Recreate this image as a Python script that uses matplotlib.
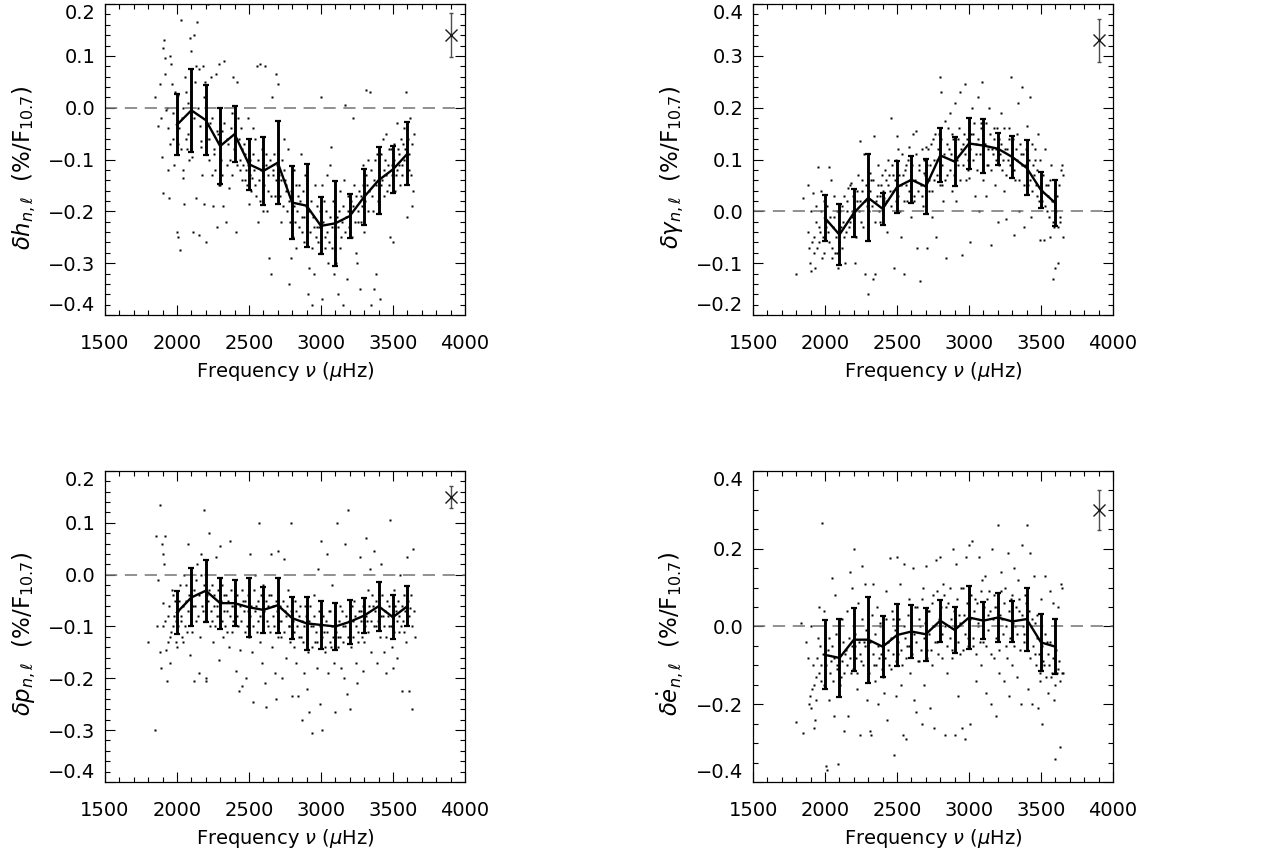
import numpy as np
import matplotlib
matplotlib.use('Agg')
import matplotlib.pyplot as plt
from matplotlib.ticker import MultipleLocator

plt.rcParams['font.family'] = ['DejaVu Sans']
plt.rcParams['mathtext.fontset'] = 'dejavusans'

# bin centres (muHz)
nu_bins = [2000, 2100, 2200, 2300, 2400, 2500, 2600, 2700, 2800,
           2900, 3000, 3100, 3200, 3300, 3400, 3500, 3600]

# binned means and error bar half-lengths
h_mean = [-0.033, -0.005, -0.024, -0.074, -0.051, -0.109, -0.122, -0.106, -0.183,
          -0.189, -0.228, -0.223, -0.209, -0.172, -0.140, -0.119, -0.089]
h_err = [0.059, 0.080, 0.068, 0.074, 0.054, 0.049, 0.065, 0.080, 0.071,
         0.080, 0.055, 0.082, 0.043, 0.054, 0.065, 0.045, 0.061]
g_mean = [-0.013, -0.045, -0.003, 0.026, 0.005, 0.047, 0.061, 0.048, 0.108,
          0.096, 0.131, 0.127, 0.121, 0.105, 0.084, 0.041, 0.016]
g_err = [0.044, 0.059, 0.046, 0.084, 0.031, 0.051, 0.045, 0.053, 0.052,
         0.048, 0.050, 0.052, 0.031, 0.040, 0.053, 0.035, 0.044]
p_mean = [-0.073, -0.044, -0.031, -0.055, -0.055, -0.063, -0.068, -0.059, -0.084,
          -0.094, -0.097, -0.100, -0.091, -0.079, -0.061, -0.082, -0.061]
p_err = [0.041, 0.056, 0.060, 0.049, 0.045, 0.057, 0.045, 0.053, 0.041,
         0.051, 0.046, 0.045, 0.043, 0.033, 0.047, 0.042, 0.039]
e_mean = [-0.073, -0.081, -0.034, -0.034, -0.052, -0.022, -0.013, -0.020, 0.015,
          -0.009, 0.023, 0.015, 0.023, 0.013, 0.019, -0.041, -0.052]
e_err = [0.089, 0.101, 0.081, 0.111, 0.079, 0.080, 0.067, 0.068, 0.054,
         0.058, 0.080, 0.047, 0.063, 0.052, 0.081, 0.074, 0.070]

# typical single-mode error (top right symbol): freq, value, error
h_typ = (3900, 0.140, 0.043)
g_typ = (3900, 0.330, 0.042)
p_typ = (3900, 0.150, 0.022)
e_typ = (3900, 0.300, 0.051)

# individual modes (freq, shift): scattered modes
h_pts = [(1850, 0.02), (1870, -0.035), (1880, 0.045), (1890, -0.02), (1895, -0.095), (1900, -0.165),
         (1905, 0.115), (1910, 0.13), (1915, 0.095), (1920, 0.065), (1925, -0.005), (1930, 0.0),
         (1935, -0.04), (1940, -0.12), (1945, -0.175), (1950, 0.1), (1955, -0.07), (1960, 0.085),
         (1965, 0.045), (1970, -0.01), (1975, -0.06), (1980, -0.11), (1985, 0.03),
         (2000, -0.24), (2005, -0.25), (2010, 0.025), (2015, -0.04), (2020, -0.275), (2025, -0.08),
         (2030, 0.17), (2040, -0.135), (2045, -0.12), (2050, -0.185), (2055, 0.06), (2060, 0.03),
         (2065, -0.06), (2070, -0.08), (2080, 0.01), (2090, 0.135), (2095, 0.11), (2100, -0.04),
         (2105, -0.095), (2110, -0.24), (2120, 0.14), (2125, 0.05), (2130, 0.08), (2135, -0.175),
         (2140, 0.165), (2150, -0.245), (2155, 0.075), (2160, -0.035), (2165, -0.065), (2170, -0.075),
         (2180, 0.08), (2190, -0.185), (2195, 0.05), (2200, -0.26), (2205, -0.02), (2210, -0.06),
         (2215, 0.2), (2220, -0.1), (2230, -0.03), (2240, -0.13), (2250, -0.19), (2260, -0.08),
         (2270, 0.065), (2275, -0.045), (2280, -0.23), (2290, 0.085), (2295, -0.15), (2300, -0.15),
         (2310, -0.045), (2320, -0.19), (2330, 0.09), (2340, -0.22), (2350, -0.11), (2355, -0.07),
         (2360, -0.155), (2380, -0.01), (2390, 0.06), (2400, -0.03), (2410, -0.24), (2420, 0.05),
         (2430, -0.06), (2440, -0.1), (2450, -0.08), (2460, -0.11), (2470, -0.14), (2480, -0.12),
         (2490, -0.02), (2500, -0.185), (2510, -0.1), (2520, -0.135), (2530, -0.04), (2540, -0.06),
         (2550, -0.17), (2555, 0.08), (2560, -0.22), (2570, -0.14), (2580, 0.085), (2585, -0.12),
         (2590, -0.08), (2600, -0.2), (2610, 0.08), (2620, -0.09), (2630, -0.16), (2640, -0.29),
         (2650, -0.32), (2660, 0.02), (2670, -0.13), (2680, -0.17), (2690, 0.065), (2700, 0.045),
         (2705, -0.05), (2710, -0.13), (2720, -0.22), (2730, -0.1), (2740, -0.06), (2750, -0.14),
         (2760, -0.15), (2770, -0.08), (2780, -0.34), (2790, -0.29), (2800, -0.2), (2810, -0.12),
         (2820, -0.22), (2830, -0.27), (2840, -0.17), (2850, -0.15), (2860, -0.09), (2870, -0.24),
         (2880, -0.21), (2890, -0.13), (2900, -0.25), (2910, -0.36), (2920, -0.31), (2930, -0.18),
         (2940, -0.38), (2950, -0.32), (2960, -0.15), (2970, -0.23), (2980, -0.26), (2990, -0.2),
         (3000, 0.02), (3005, -0.15), (3010, -0.37), (3020, -0.18), (3030, -0.25), (3040, -0.13),
         (3050, -0.3), (3060, -0.11), (3070, -0.075), (3080, -0.27), (3090, -0.32), (3100, -0.19),
         (3110, -0.21), (3120, -0.36), (3130, -0.16), (3140, -0.25), (3150, -0.38), (3160, -0.14),
         (3170, 0.005), (3180, -0.33), (3190, -0.2), (3200, -0.24), (3210, -0.18), (3220, -0.02),
         (3230, -0.15), (3240, -0.28), (3250, -0.3), (3260, -0.22), (3270, -0.35), (3280, -0.17),
         (3290, -0.11), (3300, -0.24), (3310, 0.035), (3320, -0.15), (3330, -0.1), (3340, 0.03),
         (3350, -0.38), (3360, -0.2), (3370, -0.35), (3380, -0.32), (3390, -0.09), (3400, -0.2),
         (3410, -0.37), (3420, -0.15), (3430, -0.06), (3440, -0.12), (3450, -0.05), (3460, -0.16),
         (3470, -0.08), (3480, -0.25), (3490, -0.11), (3500, -0.26), (3510, -0.07), (3520, -0.13),
         (3530, -0.03), (3540, -0.09), (3550, -0.15), (3560, -0.11), (3570, -0.07), (3580, -0.04),
         (3590, 0.03), (3600, -0.21), (3610, -0.12), (3620, -0.02), (3630, -0.19), (3640, -0.16),
         (3645, -0.05)]
# denser cloud close to the binned curve
h_core = [(2005, -0.07), (2035, -0.02), (2045, 0.0), (2075, -0.05), (2085, -0.1), (2115, -0.02),
          (2145, 0.0), (2175, -0.13), (2185, 0.02), (2225, -0.06), (2235, 0.06), (2245, -0.02),
          (2255, -0.09), (2265, -0.12), (2285, -0.05), (2305, -0.1), (2315, -0.13), (2325, -0.03),
          (2345, -0.06), (2365, -0.1), (2375, -0.04), (2385, -0.13), (2395, -0.08), (2405, -0.06),
          (2415, -0.11), (2425, -0.02), (2435, -0.12), (2445, -0.04), (2455, -0.14), (2465, -0.07),
          (2475, -0.09), (2485, -0.15), (2495, -0.11), (2505, -0.13), (2515, -0.16), (2525, -0.09),
          (2535, -0.12), (2545, -0.15), (2565, -0.1), (2575, -0.18), (2595, -0.13), (2605, -0.15),
          (2615, -0.11), (2625, -0.2), (2635, -0.13), (2645, -0.1), (2655, -0.17), (2665, -0.12),
          (2675, -0.09), (2685, -0.14), (2695, -0.11), (2715, -0.17), (2725, -0.14), (2735, -0.19),
          (2745, -0.12), (2755, -0.16), (2765, -0.2), (2775, -0.18), (2785, -0.22), (2795, -0.16),
          (2805, -0.25), (2815, -0.19), (2825, -0.15), (2835, -0.2), (2845, -0.23), (2855, -0.18),
          (2865, -0.21), (2875, -0.16), (2885, -0.26), (2895, -0.19), (2905, -0.22), (2915, -0.2),
          (2925, -0.24), (2935, -0.27), (2945, -0.21), (2955, -0.23), (2965, -0.25), (2975, -0.19),
          (2985, -0.23), (2995, -0.28), (3015, -0.22), (3025, -0.27), (3035, -0.2), (3045, -0.24),
          (3055, -0.26), (3065, -0.21), (3075, -0.23), (3085, -0.18), (3095, -0.25), (3105, -0.3),
          (3115, -0.23), (3125, -0.2), (3135, -0.27), (3145, -0.22), (3155, -0.19), (3165, -0.24),
          (3175, -0.21), (3185, -0.17), (3195, -0.23), (3205, -0.2), (3215, -0.25), (3225, -0.19),
          (3235, -0.22), (3245, -0.17), (3255, -0.2), (3265, -0.16), (3275, -0.22), (3285, -0.19),
          (3295, -0.15), (3305, -0.18), (3315, -0.13), (3325, -0.2), (3335, -0.16), (3345, -0.12),
          (3355, -0.17), (3365, -0.14), (3375, -0.1), (3385, -0.15), (3395, -0.18), (3405, -0.12),
          (3415, -0.09), (3425, -0.14), (3435, -0.17), (3445, -0.1), (3455, -0.13), (3465, -0.11),
          (3475, -0.15), (3485, -0.08), (3495, -0.13), (3505, -0.1), (3515, -0.16), (3525, -0.12),
          (3535, -0.08), (3545, -0.11), (3555, -0.06), (3565, -0.13), (3575, -0.1), (3585, -0.08),
          (3595, -0.12), (3605, -0.06), (3615, -0.09), (3625, -0.13), (3635, -0.07)]

g_pts = [(1800, -0.12), (1850, 0.025), (1880, 0.05), (1885, -0.04), (1890, -0.07), (1895, -0.1),
         (1900, -0.115), (1905, 0.0), (1910, -0.06), (1915, 0.035), (1920, -0.08), (1930, -0.11),
         (1940, 0.01), (1950, 0.085), (1955, -0.03), (1960, -0.06), (1970, 0.04), (1980, -0.09),
         (1990, 0.02), (2010, -0.02), (2020, -0.04), (2030, 0.085), (2040, 0.06), (2050, -0.07),
         (2060, -0.01), (2070, -0.08), (2080, 0.0), (2090, -0.11), (2100, -0.06), (2110, -0.03),
         (2120, 0.01), (2130, -0.05), (2140, -0.1), (2150, 0.02), (2160, 0.045), (2170, -0.02),
         (2180, 0.055), (2190, 0.0), (2200, -0.04), (2210, -0.1), (2220, 0.02), (2230, 0.07),
         (2240, 0.135), (2250, -0.02), (2260, 0.04), (2270, 0.11), (2280, -0.12), (2290, 0.01),
         (2300, -0.16), (2310, 0.075), (2320, 0.06), (2330, -0.13), (2340, 0.145), (2350, -0.12),
         (2360, 0.03), (2370, 0.09), (2380, -0.02), (2390, 0.05), (2400, 0.0), (2410, 0.025),
         (2420, 0.06), (2430, -0.04), (2440, 0.1), (2450, 0.04), (2460, 0.18), (2470, 0.07),
         (2480, -0.11), (2490, 0.02), (2500, 0.145), (2510, 0.12), (2520, 0.0), (2530, -0.05),
         (2540, 0.07), (2550, -0.12), (2560, 0.09), (2570, 0.02), (2580, 0.125), (2590, 0.06),
         (2600, -0.01), (2610, 0.15), (2620, 0.03), (2630, 0.155), (2640, -0.07), (2650, 0.09),
         (2660, -0.135), (2670, 0.12), (2680, 0.01), (2690, 0.075), (2700, 0.125), (2710, -0.07),
         (2720, 0.04), (2730, 0.09), (2740, -0.01), (2750, 0.14), (2760, 0.06), (2770, -0.05),
         (2780, 0.1), (2790, 0.15), (2800, 0.26), (2805, 0.23), (2810, 0.05), (2820, 0.02),
         (2830, 0.175), (2840, -0.09), (2850, 0.07), (2860, 0.12), (2870, 0.19), (2880, 0.04),
         (2890, 0.14), (2900, 0.21), (2910, 0.02), (2920, 0.09), (2930, 0.16), (2940, 0.23),
         (2950, -0.085), (2960, 0.13), (2970, 0.245), (2980, 0.06), (2990, 0.1), (3000, 0.065),
         (3010, -0.06), (3020, 0.2), (3030, 0.15), (3040, 0.03), (3050, 0.11), (3060, 0.22),
         (3070, 0.0), (3080, 0.17), (3090, 0.25), (3100, 0.06), (3110, 0.13), (3120, 0.03),
         (3130, 0.09), (3140, 0.2), (3150, -0.065), (3160, 0.12), (3170, 0.16), (3180, 0.05),
         (3190, 0.1), (3200, -0.02), (3210, 0.14), (3220, 0.19), (3230, 0.08), (3240, 0.04),
         (3250, 0.12), (3260, -0.015), (3270, 0.1), (3280, 0.16), (3290, 0.26), (3300, 0.13),
         (3310, -0.045), (3320, 0.06), (3330, 0.15), (3340, 0.21), (3350, 0.0), (3360, 0.11),
         (3370, 0.24), (3380, -0.03), (3390, 0.09), (3400, 0.165), (3410, 0.05), (3420, 0.22),
         (3430, -0.01), (3440, 0.13), (3450, 0.07), (3460, 0.1), (3470, 0.03), (3480, 0.15),
         (3490, -0.055), (3500, 0.065), (3510, 0.02), (3520, -0.055), (3530, 0.12), (3540, 0.0),
         (3550, 0.05), (3560, -0.05), (3570, 0.09), (3580, -0.13), (3590, -0.03), (3600, -0.11),
         (3610, 0.03), (3620, -0.1), (3630, -0.02), (3640, 0.08), (3645, 0.09), (3650, -0.05),
         (3655, 0.07)]
g_core = [(1925, -0.05), (1935, -0.02), (1945, -0.07), (1965, -0.04), (1975, 0.0), (1985, -0.05),
          (1995, -0.08), (2005, -0.03), (2015, 0.01), (2025, -0.06), (2035, -0.01), (2045, -0.09),
          (2055, -0.03), (2065, 0.03), (2075, -0.05), (2085, -0.08), (2095, -0.02), (2105, 0.0),
          (2115, -0.07), (2125, -0.02), (2135, 0.03), (2145, -0.04), (2155, 0.0), (2165, -0.03),
          (2175, 0.05), (2185, -0.01), (2195, 0.03), (2205, 0.0), (2215, -0.05), (2225, 0.04),
          (2235, 0.0), (2245, 0.02), (2255, 0.06), (2265, -0.03), (2275, 0.02), (2285, 0.05),
          (2295, 0.03), (2305, 0.0), (2315, 0.04), (2325, 0.01), (2335, 0.06), (2345, -0.02),
          (2355, 0.02), (2365, 0.05), (2375, 0.0), (2385, 0.03), (2395, 0.07), (2405, 0.04),
          (2415, 0.08), (2425, 0.02), (2435, 0.05), (2445, 0.07), (2455, 0.01), (2465, 0.09),
          (2475, 0.04), (2485, 0.06), (2495, 0.1), (2505, 0.03), (2515, 0.07), (2525, 0.05),
          (2535, 0.11), (2545, 0.02), (2555, 0.08), (2565, 0.05), (2575, 0.1), (2585, 0.04),
          (2595, 0.07), (2605, 0.09), (2615, 0.02), (2625, 0.06), (2635, 0.11), (2645, 0.04),
          (2655, 0.08), (2665, 0.05), (2675, 0.03), (2685, 0.1), (2695, 0.07), (2705, 0.09),
          (2715, 0.12), (2725, 0.06), (2735, 0.13), (2745, 0.04), (2755, 0.1), (2765, 0.15),
          (2775, 0.07), (2785, 0.12), (2795, 0.05), (2805, 0.14), (2815, 0.09), (2825, 0.11),
          (2835, 0.06), (2845, 0.13), (2855, 0.16), (2865, 0.08), (2875, 0.11), (2885, 0.15),
          (2895, 0.07), (2905, 0.12), (2915, 0.1), (2925, 0.14), (2935, 0.06), (2945, 0.12),
          (2955, 0.09), (2965, 0.15), (2975, 0.11), (2985, 0.14), (2995, 0.08), (3005, 0.12),
          (3015, 0.15), (3025, 0.1), (3035, 0.17), (3045, 0.13), (3055, 0.08), (3065, 0.14),
          (3075, 0.11), (3085, 0.16), (3095, 0.1), (3105, 0.13), (3115, 0.17), (3125, 0.09),
          (3135, 0.12), (3145, 0.15), (3155, 0.08), (3165, 0.11), (3175, 0.14), (3185, 0.12),
          (3195, 0.16), (3205, 0.09), (3215, 0.11), (3225, 0.13), (3235, 0.1), (3245, 0.16),
          (3255, 0.07), (3265, 0.12), (3275, 0.14), (3285, 0.09), (3295, 0.11), (3305, 0.14),
          (3315, 0.08), (3325, 0.12), (3335, 0.1), (3345, 0.06), (3355, 0.13), (3365, 0.09),
          (3375, 0.11), (3385, 0.05), (3395, 0.12), (3405, 0.08), (3415, 0.1), (3425, 0.06),
          (3435, 0.04), (3445, 0.09), (3455, 0.12), (3465, 0.05), (3475, 0.08), (3485, 0.02),
          (3495, 0.1), (3505, 0.04), (3515, 0.07), (3525, 0.01), (3535, 0.05), (3545, 0.03),
          (3555, -0.01), (3565, 0.06), (3575, 0.02), (3585, -0.02), (3595, 0.04), (3605, 0.0),
          (3615, -0.03), (3625, 0.05), (3635, -0.01)]

p_pts = [(1800, -0.13), (1850, -0.3), (1855, 0.075), (1860, -0.1), (1870, -0.01), (1880, -0.15),
         (1885, 0.135), (1890, -0.18), (1895, 0.06), (1900, 0.04), (1905, -0.055), (1910, 0.02),
         (1915, -0.09), (1920, 0.075), (1925, -0.145), (1930, -0.205), (1940, -0.13), (1950, -0.17),
         (1960, -0.11), (1970, -0.04), (1980, -0.08), (1990, -0.13), (2000, -0.14), (2010, -0.07),
         (2020, -0.02), (2030, -0.09), (2040, -0.13), (2050, 0.0), (2060, -0.05), (2070, -0.11),
         (2080, 0.06), (2090, -0.155), (2100, -0.03), (2110, -0.06), (2120, -0.205), (2130, -0.09),
         (2140, 0.02), (2150, -0.19), (2160, -0.12), (2170, 0.04), (2180, -0.07), (2190, 0.125),
         (2200, -0.205), (2205, -0.2), (2210, -0.04), (2220, 0.08), (2230, -0.1), (2240, -0.02),
         (2250, -0.13), (2260, -0.06), (2270, 0.035), (2280, -0.08), (2290, -0.165), (2300, 0.055),
         (2310, -0.02), (2320, -0.12), (2330, -0.07), (2340, -0.04), (2350, -0.11), (2360, -0.14),
         (2370, 0.065), (2380, -0.06), (2390, -0.09), (2400, -0.03), (2410, -0.185), (2420, -0.08),
         (2430, -0.225), (2440, -0.145), (2450, -0.215), (2460, -0.05), (2470, -0.11), (2480, -0.2),
         (2490, -0.07), (2500, -0.12), (2510, 0.04), (2520, -0.15), (2530, -0.245), (2540, 0.0),
         (2550, -0.06), (2560, -0.09), (2570, 0.1), (2580, -0.13), (2590, -0.17), (2600, -0.02),
         (2610, -0.21), (2620, -0.255), (2630, -0.1), (2640, -0.04), (2650, 0.04), (2660, -0.14),
         (2670, -0.06), (2680, -0.19), (2690, -0.24), (2700, 0.045), (2710, -0.09), (2720, -0.12),
         (2730, -0.2), (2740, 0.03), (2750, -0.07), (2760, -0.16), (2770, -0.03), (2780, -0.1),
         (2790, 0.1), (2800, -0.235), (2810, -0.14), (2820, -0.05), (2830, -0.17), (2840, -0.235),
         (2850, -0.08), (2860, -0.12), (2870, -0.28), (2880, -0.19), (2890, -0.06), (2900, -0.22),
         (2910, -0.15), (2920, -0.265), (2930, -0.1), (2940, -0.305), (2950, -0.04), (2960, -0.13),
         (2970, -0.18), (2980, 0.01), (2990, -0.25), (3000, 0.065), (3010, -0.3), (3020, -0.11),
         (3030, -0.15), (3040, 0.04), (3050, -0.19), (3060, -0.07), (3070, -0.14), (3080, -0.02),
         (3090, -0.17), (3100, -0.265), (3110, 0.1), (3120, -0.12), (3130, -0.06), (3140, -0.18),
         (3150, -0.1), (3160, -0.2), (3170, 0.06), (3180, -0.23), (3190, 0.125), (3200, -0.26),
         (3210, -0.14), (3220, -0.09), (3230, -0.05), (3240, -0.17), (3250, -0.21), (3260, -0.11),
         (3270, 0.035), (3280, -0.07), (3290, -0.185), (3300, -0.13), (3310, 0.07), (3320, -0.09),
         (3330, -0.03), (3340, 0.01), (3350, -0.15), (3360, -0.06), (3370, 0.045), (3380, -0.1),
         (3390, -0.17), (3400, -0.04), (3410, -0.12), (3420, 0.02), (3430, -0.08), (3440, -0.15),
         (3450, -0.19), (3460, -0.05), (3470, -0.1), (3480, 0.105), (3490, -0.14), (3500, -0.18),
         (3510, -0.03), (3520, -0.07), (3530, -0.16), (3540, -0.11), (3550, 0.0), (3560, -0.225),
         (3570, -0.09), (3580, -0.04), (3590, -0.13), (3600, 0.035), (3610, -0.225), (3620, -0.065),
         (3630, -0.26), (3640, 0.05), (3645, -0.07), (3650, -0.12)]
p_core = [(1905, -0.1), (1935, -0.08), (1945, -0.06), (1955, -0.12), (1965, -0.03), (1975, -0.1),
          (1985, -0.05), (1995, -0.09), (2005, -0.1), (2015, -0.05), (2025, -0.08), (2035, -0.12),
          (2045, -0.06), (2055, -0.1), (2065, -0.02), (2075, -0.07), (2085, -0.04), (2095, -0.09),
          (2105, -0.11), (2115, -0.03), (2125, -0.06), (2135, -0.01), (2145, -0.08), (2155, -0.04),
          (2165, 0.0), (2175, -0.06), (2185, -0.02), (2195, -0.09), (2215, -0.05), (2225, -0.03),
          (2235, -0.07), (2245, -0.09), (2255, -0.04), (2265, -0.1), (2275, -0.06), (2285, -0.03),
          (2295, -0.08), (2305, -0.05), (2315, -0.09), (2325, -0.04), (2335, -0.1), (2345, -0.07),
          (2355, -0.05), (2365, -0.08), (2375, -0.03), (2385, -0.11), (2395, -0.06), (2405, -0.08),
          (2415, -0.04), (2425, -0.1), (2435, -0.06), (2445, -0.09), (2455, -0.03), (2465, -0.07),
          (2475, -0.05), (2485, -0.1), (2495, -0.04), (2505, -0.08), (2515, -0.06), (2525, -0.1),
          (2535, -0.03), (2545, -0.07), (2555, -0.11), (2565, -0.05), (2575, -0.08), (2585, -0.04),
          (2595, -0.1), (2605, -0.07), (2615, -0.05), (2625, -0.09), (2635, -0.06), (2645, -0.11),
          (2655, -0.04), (2665, -0.08), (2675, -0.1), (2685, -0.05), (2695, -0.07), (2705, -0.12),
          (2715, -0.06), (2725, -0.09), (2735, -0.05), (2745, -0.11), (2755, -0.08), (2765, -0.06),
          (2775, -0.1), (2785, -0.13), (2795, -0.07), (2805, -0.09), (2815, -0.11), (2825, -0.07),
          (2835, -0.1), (2845, -0.12), (2855, -0.06), (2865, -0.09), (2875, -0.13), (2885, -0.1),
          (2895, -0.08), (2905, -0.12), (2915, -0.09), (2925, -0.06), (2935, -0.14), (2945, -0.1),
          (2955, -0.08), (2965, -0.11), (2975, -0.13), (2985, -0.07), (2995, -0.1), (3005, -0.12),
          (3015, -0.08), (3025, -0.14), (3035, -0.09), (3045, -0.11), (3055, -0.07), (3065, -0.13),
          (3075, -0.1), (3085, -0.12), (3095, -0.08), (3105, -0.11), (3115, -0.14), (3125, -0.09),
          (3135, -0.12), (3145, -0.07), (3155, -0.13), (3165, -0.1), (3175, -0.08), (3185, -0.12),
          (3195, -0.09), (3205, -0.11), (3215, -0.06), (3225, -0.12), (3235, -0.08), (3245, -0.1),
          (3255, -0.13), (3265, -0.07), (3275, -0.09), (3285, -0.12), (3295, -0.06), (3305, -0.1),
          (3315, -0.08), (3325, -0.11), (3335, -0.06), (3345, -0.09), (3355, -0.04), (3365, -0.1),
          (3375, -0.07), (3385, -0.05), (3395, -0.09), (3405, -0.06), (3415, -0.08), (3425, -0.04),
          (3435, -0.1), (3445, -0.07), (3455, -0.12), (3465, -0.08), (3475, -0.06), (3485, -0.1),
          (3495, -0.08), (3505, -0.11), (3515, -0.06), (3525, -0.09), (3535, -0.05), (3545, -0.08),
          (3555, -0.1), (3565, -0.06), (3575, -0.11), (3585, -0.07), (3595, -0.09), (3605, -0.05),
          (3615, -0.08), (3625, -0.04), (3635, -0.1)]

e_pts = [(1800, -0.245), (1830, 0.01), (1850, -0.275), (1870, -0.04), (1880, -0.08), (1890, -0.2),
         (1895, -0.18), (1900, -0.21), (1905, 0.0), (1910, -0.16), (1920, -0.26), (1930, -0.24),
         (1940, -0.13), (1950, -0.03), (1960, 0.05), (1970, -0.1), (1980, 0.265), (1990, 0.04),
         (1995, -0.15), (2010, -0.36), (2015, -0.37), (2020, -0.06), (2030, -0.19), (2040, -0.09),
         (2050, 0.125), (2060, -0.23), (2070, 0.08), (2080, -0.1), (2090, -0.355), (2100, -0.04),
         (2110, -0.13), (2120, 0.02), (2130, -0.27), (2140, -0.07), (2150, 0.04), (2160, -0.23),
         (2170, 0.14), (2180, -0.12), (2190, 0.1), (2200, 0.2), (2210, -0.05), (2220, -0.16),
         (2230, 0.06), (2240, -0.28), (2250, -0.09), (2260, 0.155), (2270, -0.04), (2280, 0.11),
         (2290, -0.19), (2300, -0.03), (2310, -0.27), (2320, -0.28), (2330, 0.11), (2340, -0.1),
         (2350, -0.14), (2360, 0.05), (2370, -0.2), (2380, 0.01), (2390, -0.07), (2400, -0.13),
         (2410, -0.17), (2420, 0.09), (2430, -0.24), (2440, -0.04), (2450, 0.175), (2460, -0.11),
         (2470, 0.02), (2480, -0.33), (2490, -0.18), (2500, 0.18), (2510, -0.07), (2520, 0.11),
         (2530, -0.15), (2540, -0.28), (2550, 0.16), (2560, -0.29), (2570, -0.05), (2580, 0.07),
         (2590, -0.12), (2600, -0.03), (2610, 0.15), (2620, -0.19), (2630, -0.22), (2640, 0.05),
         (2650, -0.09), (2660, 0.0), (2670, -0.25), (2680, 0.1), (2690, -0.15), (2700, 0.155),
         (2710, -0.06), (2720, 0.04), (2730, -0.21), (2740, -0.1), (2750, 0.08), (2760, -0.26),
         (2770, 0.17), (2780, -0.04), (2790, 0.02), (2800, 0.18), (2810, -0.08), (2820, 0.11),
         (2830, -0.28), (2840, 0.05), (2850, -0.12), (2860, 0.0), (2870, 0.1), (2880, -0.06),
         (2890, 0.2), (2900, -0.28), (2910, 0.16), (2920, -0.18), (2930, 0.03), (2940, -0.07),
         (2950, -0.26), (2960, 0.1), (2970, -0.29), (2980, 0.18), (2990, -0.03), (3000, 0.21),
         (3010, -0.25), (3020, 0.22), (3030, -0.05), (3040, 0.07), (3050, -0.14), (3060, 0.0),
         (3070, 0.18), (3080, -0.1), (3090, 0.12), (3100, -0.04), (3110, 0.13), (3120, -0.17),
         (3130, 0.03), (3140, 0.09), (3150, -0.2), (3160, 0.2), (3170, -0.08), (3180, 0.05),
         (3190, -0.23), (3200, 0.26), (3210, -0.12), (3220, 0.14), (3230, 0.02), (3240, -0.14),
         (3250, 0.1), (3260, -0.05), (3270, 0.19), (3280, -0.18), (3290, 0.07), (3300, -0.1),
         (3310, 0.15), (3320, 0.0), (3330, -0.13), (3340, 0.12), (3350, 0.04), (3360, -0.2),
         (3370, 0.21), (3380, -0.02), (3390, 0.08), (3400, 0.26), (3410, -0.16), (3420, 0.19),
         (3430, 0.0), (3440, -0.2), (3450, 0.13), (3460, -0.07), (3470, 0.03), (3480, -0.21),
         (3490, -0.14), (3500, 0.07), (3510, -0.25), (3520, -0.1), (3530, 0.13), (3540, -0.04),
         (3550, -0.17), (3560, 0.09), (3570, -0.13), (3580, 0.06), (3590, -0.19), (3600, -0.34),
         (3610, -0.12), (3620, 0.05), (3630, -0.31), (3640, 0.11), (3645, 0.1), (3650, -0.12)]
e_core = [(1915, -0.1), (1925, -0.15), (1935, -0.19), (1945, -0.08), (1955, -0.12), (1965, -0.05),
          (1975, -0.14), (1985, -0.07), (2005, -0.1), (2025, -0.03), (2035, -0.12), (2045, -0.05),
          (2055, -0.14), (2065, -0.08), (2075, -0.02), (2085, -0.11), (2095, -0.06), (2105, -0.15),
          (2115, -0.09), (2125, -0.04), (2135, -0.12), (2145, -0.06), (2155, -0.1), (2165, -0.03),
          (2175, -0.08), (2185, -0.05), (2195, -0.11), (2205, -0.02), (2215, -0.08), (2225, -0.12),
          (2235, -0.04), (2245, -0.07), (2255, 0.02), (2265, -0.1), (2275, -0.05), (2285, -0.01),
          (2295, -0.08), (2305, -0.12), (2315, -0.04), (2325, 0.03), (2335, -0.07), (2345, -0.02),
          (2355, -0.1), (2365, -0.05), (2375, -0.08), (2385, 0.0), (2395, -0.11), (2405, -0.04),
          (2415, -0.08), (2425, 0.02), (2435, -0.06), (2445, -0.1), (2455, -0.03), (2465, 0.04),
          (2475, -0.07), (2485, -0.01), (2495, -0.09), (2505, -0.04), (2515, 0.02), (2525, -0.06),
          (2535, -0.1), (2545, 0.0), (2555, -0.03), (2565, -0.08), (2575, 0.03), (2585, -0.05),
          (2595, 0.01), (2605, -0.07), (2615, -0.02), (2625, 0.05), (2635, -0.04), (2645, -0.09),
          (2655, 0.02), (2665, -0.06), (2675, 0.07), (2685, -0.03), (2695, 0.01), (2705, -0.08),
          (2715, 0.04), (2725, -0.02), (2735, -0.06), (2745, 0.06), (2755, 0.0), (2765, -0.04),
          (2775, 0.09), (2785, -0.07), (2795, 0.03), (2805, 0.05), (2815, -0.02), (2825, 0.08),
          (2835, 0.0), (2845, -0.05), (2855, 0.06), (2865, -0.03), (2875, 0.02), (2885, -0.08),
          (2895, 0.04), (2905, -0.01), (2915, 0.07), (2925, -0.04), (2935, 0.01), (2945, 0.1),
          (2955, -0.06), (2965, 0.03), (2975, -0.02), (2985, 0.06), (2995, -0.05), (3005, 0.02),
          (3015, 0.08), (3025, -0.03), (3035, 0.04), (3045, -0.07), (3055, 0.06), (3065, 0.01),
          (3075, -0.04), (3085, 0.09), (3095, 0.0), (3105, 0.05), (3115, -0.05), (3125, 0.07),
          (3135, -0.01), (3145, 0.04), (3155, -0.07), (3165, 0.02), (3175, 0.08), (3185, -0.03),
          (3195, 0.05), (3205, -0.06), (3215, 0.03), (3225, 0.09), (3235, -0.02), (3245, 0.06),
          (3255, 0.0), (3265, -0.08), (3275, 0.04), (3285, -0.03), (3295, 0.08), (3305, 0.01),
          (3315, -0.05), (3325, 0.05), (3335, -0.02), (3345, 0.07), (3355, -0.06), (3365, 0.03),
          (3375, 0.0), (3385, -0.04), (3395, 0.06), (3405, -0.03), (3415, 0.04), (3425, -0.08),
          (3435, 0.02), (3445, -0.05), (3455, 0.01), (3465, -0.1), (3475, -0.03), (3485, -0.07),
          (3495, -0.12), (3505, -0.05), (3515, -0.09), (3525, -0.02), (3535, -0.13), (3545, -0.07),
          (3555, -0.1), (3565, -0.04), (3575, -0.12), (3585, -0.08), (3595, -0.15), (3605, -0.06),
          (3615, -0.11), (3625, -0.09), (3635, -0.14), (3645, -0.12)]

panels = [
    (h_pts + h_core, h_mean, h_err, h_typ, r'$\delta h_{n,\ell}$', (-0.4, 0.2), 0.1, 0.02),
    (g_pts + g_core, g_mean, g_err, g_typ, r'$\delta \gamma_{n,\ell}$', (-0.2, 0.4), 0.1, 0.02),
    (p_pts + p_core, p_mean, p_err, p_typ, r'$\delta p_{n,\ell}$', (-0.4, 0.2), 0.1, 0.02),
    (e_pts + e_core, e_mean, e_err, e_typ, r'$\delta \dot{e}_{n,\ell}$', (-0.4, 0.4), 0.2, 0.05),
]
boxes = [[0.0826, 0.6358, 0.2832, 0.3595], [0.5925, 0.6358, 0.2832, 0.3595],
         [0.0826, 0.0960, 0.2832, 0.3595], [0.5925, 0.0960, 0.2832, 0.3595]]

fig = plt.figure(figsize=(12.71, 8.65), dpi=100)

for (pts, mean, err, typ, sym, ylim, major, minor), box in zip(panels, boxes):
    ax = fig.add_axes(box)
    pts = np.array(pts)
    ax.plot(pts[:, 0], pts[:, 1], 's', ms=1.7, mec='none', color='k')
    ax.axhline(0, color='0.45', lw=1.1, dashes=(8, 5))
    ax.errorbar(nu_bins, mean, yerr=err, fmt='-', color='k', lw=1.7,
                elinewidth=2.1, capsize=2.5, capthick=1.6)
    ax.errorbar([typ[0]], [typ[1]], yerr=[typ[2]], fmt='x', ms=9, mew=1.0,
                color='0.1', ecolor='0.3', elinewidth=1.0, capsize=1.5)

    ax.set_xlim(1500, 4000)
    ax.set_ylim(*ylim)
    ax.set_xticks(np.arange(1500, 4001, 500))
    ax.xaxis.set_minor_locator(MultipleLocator(100))
    yt = np.round(np.arange(ylim[0], ylim[1] + 1e-9, major), 2)
    ax.set_yticks(yt)
    ax.set_yticklabels([('%.1f' % v).replace('-', '\u2212') if abs(v) > 1e-9 else '0.0'
                        for v in yt])
    ax.yaxis.set_minor_locator(MultipleLocator(minor))
    ax.tick_params(which='both', direction='in', top=True, right=True,
                   labelsize=14, color='k', width=0.8)
    ax.tick_params(which='major', length=7)
    ax.tick_params(which='minor', length=3.5)
    ax.tick_params(axis='x', pad=14)
    ax.tick_params(axis='y', pad=7)
    labs = ax.get_yticklabels()
    labs[0].set_va('bottom')
    labs[-1].set_va('top')
    for s in ax.spines.values():
        s.set_linewidth(0.9)

    ax.set_xlabel(r'Frequency $\nu$ ($\mu$Hz)', fontsize=14)
    ax.xaxis.set_label_coords(0.5, -0.145)
    ax.set_ylabel(sym + r'  (%/F$_{10.7}$)', fontsize=16.5)
    ax.yaxis.set_label_coords(-0.185, 0.475)

fig.savefig('out.png', dpi=100)
